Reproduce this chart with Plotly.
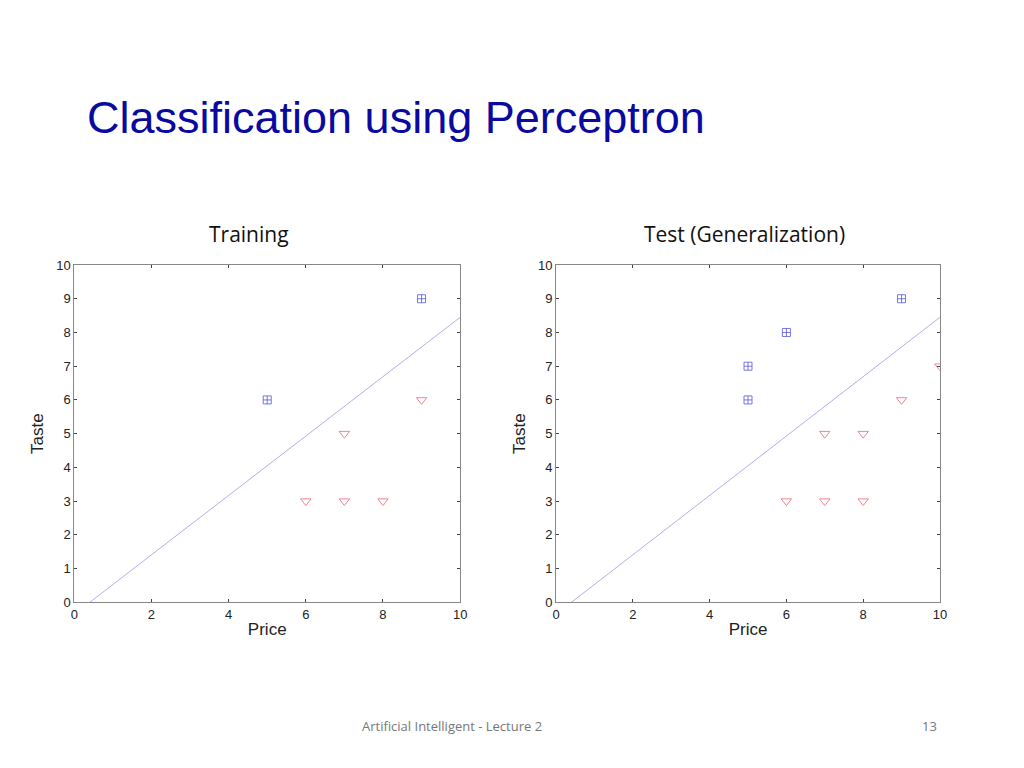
import plotly.graph_objects as go

# training data
train_pos_x = [5, 9]
train_pos_y = [6, 9]
train_neg_x = [6, 7, 8, 7, 9]
train_neg_y = [3, 3, 3, 5, 6]

# test data
test_pos_x = [5, 5, 6, 9]
test_pos_y = [6, 7, 8, 9]
test_neg_x = [6, 7, 8, 7, 8, 9, 10]
test_neg_y = [3, 3, 3, 5, 5, 6, 7]

# decision boundary
line_x = [0.4, 10]
line_y = [0, 8.45]

ticks = list(range(0, 11, 2))
OFF = 8  # page body margin

fig = go.Figure()
for ax, (px, py, nx, ny) in zip(["", "2"], [(train_pos_x, train_pos_y, train_neg_x, train_neg_y),
                                           (test_pos_x, test_pos_y, test_neg_x, test_neg_y)]):
    fig.add_trace(go.Scatter(x=line_x, y=line_y, mode="lines", line=dict(color="#9999ee", width=0.8),
                             xaxis="x" + ax, yaxis="y" + ax, showlegend=False))
    fig.add_trace(go.Scatter(x=px, y=py, mode="markers", xaxis="x" + ax, yaxis="y" + ax, showlegend=False,
                             marker=dict(symbol="square-cross-open", size=8, color="#5555dd", line=dict(width=0.8))))
    fig.add_trace(go.Scatter(x=nx, y=ny, mode="markers", xaxis="x" + ax, yaxis="y" + ax, showlegend=False,
                             marker=dict(symbol="triangle-down-open", size=9, color="#ee6677", line=dict(width=0.8))))

axis_common = dict(showgrid=False, zeroline=False, showline=True, linecolor="#888", mirror="ticks",
                   ticks="inside", ticklen=3, tickcolor="#444", tickfont=dict(size=13, family="Liberation Sans", color="#222"))
xa = dict(range=[0, 10], tickvals=ticks, title=dict(text="Price", standoff=2,
          font=dict(size=17, family="Liberation Sans", color="#222")), **axis_common)
ya = dict(range=[0, 10], dtick=1, title=dict(text="Taste", standoff=8,
          font=dict(size=17, family="Liberation Sans", color="#222")), **axis_common)


def px2x(p):
    return (p - OFF) / 1024


def px2y(p):
    return 1 - (p - OFF) / 768


fig.update_layout(
    width=1024, height=768, margin=dict(l=0, r=0, t=0, b=0),
    plot_bgcolor="white", paper_bgcolor="white",
    xaxis=dict(domain=[px2x(71), px2x(461)], anchor="y", **xa),
    yaxis=dict(domain=[px2y(607), px2y(263)], anchor="x", **ya),
    xaxis2=dict(domain=[px2x(558), px2x(946)], anchor="y2", **xa),
    yaxis2=dict(domain=[px2y(607), px2y(263)], anchor="x2", **ya),
)

notes = [
    ("Classification using Perceptron", 82, 113, 45, "Liberation Sans", "#0a0aa0", "left"),
    ("Training", 248, 231, 21, "Open Sans", "#111", "center"),
    ("Test (Generalization)", 748, 231, 21, "Open Sans", "#111", "center"),
    ("Artificial Intelligent - Lecture 2", 453, 733, 13, "Open Sans", "#777", "center"),
    ("13", 935, 733, 13, "Open Sans", "#777", "center"),
]
for text, x, y, size, fam, col, anc in notes:
    fig.add_annotation(text=text, x=px2x(x), y=px2y(y), xref="paper", yref="paper", showarrow=False,
                       xanchor=anc, yanchor="middle", font=dict(size=size, family=fam, color=col))

fig.write_html("out.html")
